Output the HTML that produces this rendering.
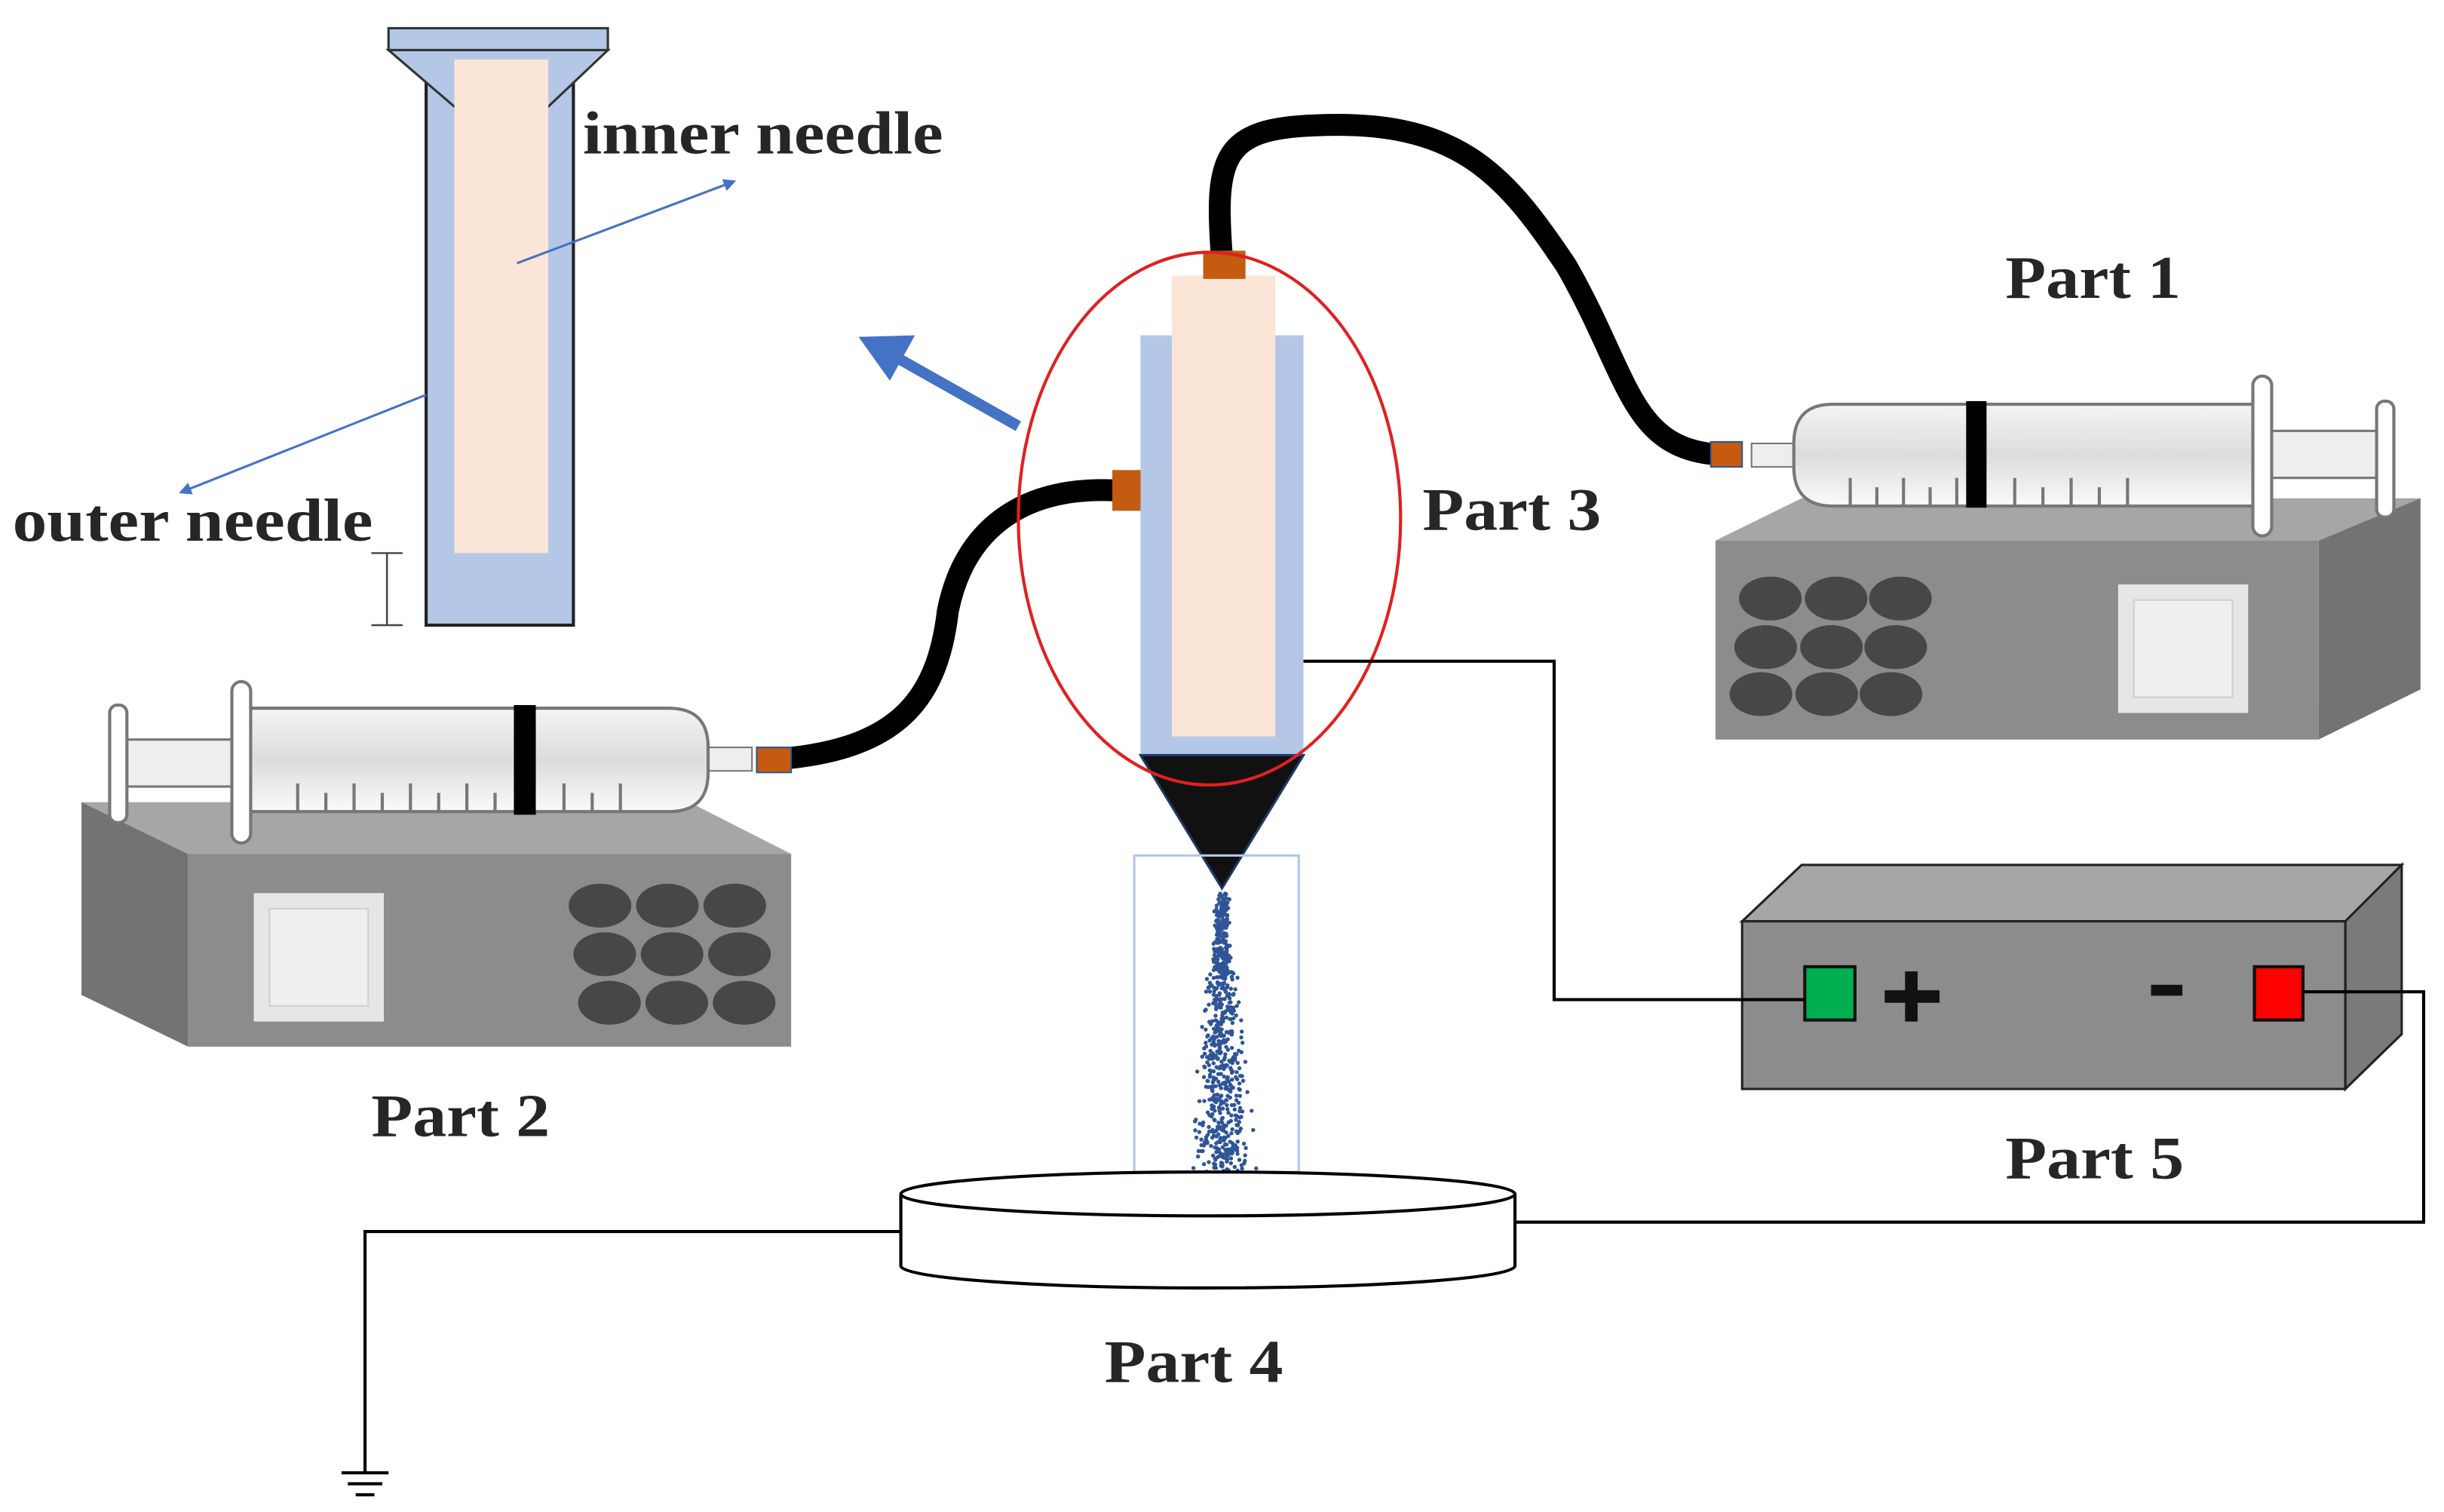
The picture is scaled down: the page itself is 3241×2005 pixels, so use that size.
<!DOCTYPE html>
<html><head><meta charset="utf-8"><style>
html,body{margin:0;padding:0;background:#fff;}
svg{display:block}
text{font-family:"Liberation Serif",serif;font-weight:bold;fill:#262626;}
</style></head><body>
<svg id="s" width="3241" height="2005" viewBox="0 0 1560 965" preserveAspectRatio="none" xmlns="http://www.w3.org/2000/svg">
<defs>
<marker id="ah" markerWidth="8" markerHeight="8" refX="6" refY="4" orient="auto" markerUnits="userSpaceOnUse"><path d="M0,0 L8,4 L0,8 z" fill="#4472c4"/></marker>
<linearGradient id="bar" x1="0" y1="0" x2="0" y2="1"><stop offset="0" stop-color="#f4f4f4"/><stop offset="0.5" stop-color="#dcdcdc"/><stop offset="1" stop-color="#fafafa"/></linearGradient>
</defs>

<!-- inset needle -->
<rect x="272" y="30" width="94" height="369" fill="#b4c7e7" stroke="#222" stroke-width="2"/>
<rect x="248" y="18" width="140" height="14" fill="#b4c7e7" stroke="#333" stroke-width="1.5"/>
<polygon points="248,32 388,32 350,68 290,68" fill="#b4c7e7" stroke="#333" stroke-width="1.5"/>
<rect x="290" y="38" width="60" height="315" fill="#fbe5d6"/>
<line x1="330" y1="168" x2="468" y2="116" stroke="#4472c4" stroke-width="1.5" marker-end="url(#ah)"/>
<line x1="272" y1="252" x2="116" y2="314" stroke="#4472c4" stroke-width="1.5" marker-end="url(#ah)"/>
<path d="M237,353 H257 M247,353 V399 M237,399 H257" stroke="#444" stroke-width="1.2" fill="none"/>
<text x="372" y="98" font-size="39" textLength="230" lengthAdjust="spacingAndGlyphs">inner needle</text>
<text x="8" y="345" font-size="39" textLength="230" lengthAdjust="spacingAndGlyphs">outer needle</text>

<!-- big arrow -->
<line x1="650" y1="272" x2="572" y2="228" stroke="#4472c4" stroke-width="7"/>
<polygon points="548,215 584,214 568,243" fill="#4472c4"/>

<!-- tubes -->
<path d="M780,165 C775,100 780,82 840,80 C930,76 960,110 1000,170 C1040,240 1040,285 1095,290" stroke="#000" stroke-width="14" fill="none"/>
<path d="M712,313 C650,310 615,340 605,390 C598,450 570,480 490,485" stroke="#000" stroke-width="14" fill="none"/>

<!-- center needle -->
<rect x="728" y="214" width="104" height="268" fill="#b4c7e7"/>
<rect x="748" y="176" width="66" height="294" fill="#fbe5d6"/>
<rect x="768" y="160" width="27" height="18" fill="#c55a11"/>
<rect x="710" y="300" width="18" height="26" fill="#c55a11"/>
<polygon points="728,482 832,482 780,567" fill="#111" stroke="#1f3864" stroke-width="1.5"/>
<rect x="724" y="546" width="105" height="202" fill="none" stroke="#b4c7e7" stroke-width="1.5"/>
<g id="dots" fill="#2f5597"></g>
<ellipse cx="772" cy="331" rx="122" ry="170" fill="none" stroke="#e02020" stroke-width="2"/>

<!-- Part 1 pump -->
<polygon points="1095,345 1150,318 1545,318 1480,345" fill="#a6a6a6"/>
<polygon points="1480,345 1545,318 1545,440 1480,472" fill="#737373"/>
<rect x="1095" y="345" width="385" height="127" fill="#8c8c8c"/>
<g fill="#474747">
<ellipse cx="1130" cy="382" rx="20" ry="14"/><ellipse cx="1172" cy="382" rx="20" ry="14"/><ellipse cx="1213" cy="382" rx="20" ry="14"/>
<ellipse cx="1127" cy="413" rx="20" ry="14"/><ellipse cx="1169" cy="413" rx="20" ry="14"/><ellipse cx="1210" cy="413" rx="20" ry="14"/>
<ellipse cx="1124" cy="443" rx="20" ry="14"/><ellipse cx="1166" cy="443" rx="20" ry="14"/><ellipse cx="1207" cy="443" rx="20" ry="14"/>
</g>
<rect x="1352" y="373" width="83" height="82" fill="#e6e6e6"/>
<rect x="1362" y="383" width="63" height="62" fill="#efefef" stroke="#cfcfcf"/>
<!-- syringe 1 -->
<rect x="1118" y="283" width="27" height="15" fill="#eee" stroke="#777"/>
<rect x="1092" y="282" width="20" height="16" fill="#c55a11" stroke="#2f5597" stroke-width="1"/>
<rect x="1448" y="275" width="72" height="30" fill="#eee" stroke="#777" stroke-width="1.5"/>
<path d="M1170,258 H1440 V323 H1170 Q1145,323 1145,298 V283 Q1145,258 1170,258 Z" fill="url(#bar)" stroke="#777" stroke-width="2"/>
<rect x="1255" y="256" width="13" height="68" fill="#000"/>
<path d="M1181,323 v-18 M1198,323 v-12 M1215,323 v-18 M1232,323 v-12 M1249,323 v-18 M1286,323 v-18 M1304,323 v-12 M1322,323 v-18 M1340,323 v-12 M1358,323 v-18" stroke="#777" stroke-width="2"/>
<rect x="1438" y="240" width="12" height="102" rx="6" fill="#fff" stroke="#777" stroke-width="2"/>
<rect x="1517" y="256" width="11" height="74" rx="5" fill="#fff" stroke="#777" stroke-width="2"/>

<!-- Part 2 pump -->
<polygon points="52,512 440,512 505,545 120,545" fill="#a6a6a6"/>
<polygon points="52,512 120,545 120,668 52,635" fill="#737373"/>
<rect x="120" y="545" width="385" height="123" fill="#8c8c8c"/>
<g fill="#474747">
<ellipse cx="383" cy="578" rx="20" ry="14"/><ellipse cx="426" cy="578" rx="20" ry="14"/><ellipse cx="469" cy="578" rx="20" ry="14"/>
<ellipse cx="386" cy="609" rx="20" ry="14"/><ellipse cx="429" cy="609" rx="20" ry="14"/><ellipse cx="472" cy="609" rx="20" ry="14"/>
<ellipse cx="389" cy="640" rx="20" ry="14"/><ellipse cx="432" cy="640" rx="20" ry="14"/><ellipse cx="475" cy="640" rx="20" ry="14"/>
</g>
<rect x="162" y="570" width="83" height="82" fill="#e6e6e6"/>
<rect x="172" y="580" width="63" height="62" fill="#efefef" stroke="#cfcfcf"/>
<!-- syringe 2 -->
<rect x="452" y="477" width="28" height="15" fill="#eee" stroke="#777"/>
<rect x="483" y="477" width="22" height="16" fill="#c55a11" stroke="#2f5597" stroke-width="1"/>
<rect x="78" y="472" width="72" height="30" fill="#eee" stroke="#777" stroke-width="1.5"/>
<path d="M155,452 H427 Q452,452 452,477 V493 Q452,518 427,518 H155 Z" fill="url(#bar)" stroke="#777" stroke-width="2"/>
<rect x="328" y="450" width="14" height="70" fill="#000"/>
<path d="M190,518 v-18 M208,518 v-12 M226,518 v-18 M244,518 v-12 M262,518 v-18 M280,518 v-12 M298,518 v-18 M316,518 v-12 M360,518 v-18 M378,518 v-12 M396,518 v-18" stroke="#777" stroke-width="2"/>
<rect x="148" y="435" width="12" height="103" rx="6" fill="#fff" stroke="#777" stroke-width="2"/>
<rect x="70" y="450" width="11" height="75" rx="5" fill="#fff" stroke="#777" stroke-width="2"/>

<!-- Part 5 power supply -->
<polygon points="1112,588 1150,552 1533,552 1497,588" fill="#a6a6a6" stroke="#222" stroke-width="1.5"/>
<polygon points="1497,588 1533,552 1533,660 1497,695" fill="#7a7a7a" stroke="#222" stroke-width="1.5"/>
<rect x="1112" y="588" width="385" height="107" fill="#8c8c8c" stroke="#222" stroke-width="1.5"/>
<rect x="1152" y="617" width="32" height="34" fill="#00b050" stroke="#111" stroke-width="2"/>
<rect x="1439" y="617" width="31" height="34" fill="#ff0000" stroke="#111" stroke-width="2"/>
<path d="M1220,620 V652 M1203,636 H1238" stroke="#111" stroke-width="8"/>
<path d="M1373,632 H1393" stroke="#111" stroke-width="7"/>

<!-- wires -->
<path d="M832,422 H992 V638 H1152" stroke="#000" stroke-width="2" fill="none"/>
<path d="M1470,633 H1547 V780 H967" stroke="#000" stroke-width="2" fill="none"/>
<path d="M575,786 H233 V940" stroke="#000" stroke-width="2" fill="none"/>
<path d="M218,940 H248 M222,947 H244 M227,954 H239" stroke="#000" stroke-width="2"/>

<!-- Part 4 dish -->
<path d="M575,762 V808 A196,14 0 0 0 967,808 V762" fill="#fff" stroke="#000" stroke-width="2"/>
<ellipse cx="771" cy="762" rx="196" ry="14" fill="#fff" stroke="#000" stroke-width="2"/>

<!-- labels -->
<text x="1280" y="190" font-size="39" textLength="112" lengthAdjust="spacingAndGlyphs">Part 1</text>
<text x="908" y="338" font-size="39" textLength="114" lengthAdjust="spacingAndGlyphs">Part 3</text>
<text x="237" y="725" font-size="39" textLength="114" lengthAdjust="spacingAndGlyphs">Part 2</text>
<text x="1280" y="752" font-size="39" textLength="114" lengthAdjust="spacingAndGlyphs">Part 5</text>
<text x="705" y="882" font-size="39" textLength="114" lengthAdjust="spacingAndGlyphs">Part 4</text>
</svg>
<script>
(function(){var g=document.getElementById('dots');var s=12345;function r(){s=(s*16807)%2147483647;return s/2147483647;}
var h='';for(var i=0;i<700;i++){var t=r();var y=570+t*178;var w=3+t*16;var x=780+(r()+r()+r()-1.5)*w;h+='<circle cx="'+x.toFixed(1)+'" cy="'+y.toFixed(1)+'" r="1.3"/>';}
g.innerHTML=h;})();
</script>
</body></html>
